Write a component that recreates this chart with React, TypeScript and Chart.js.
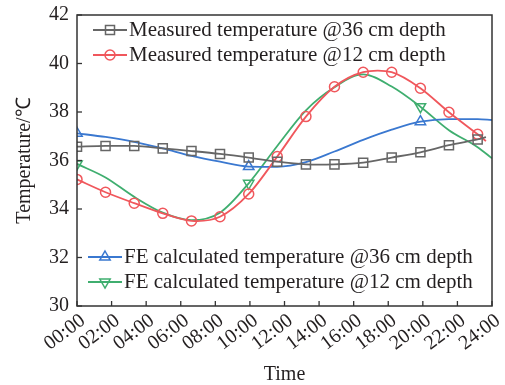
import React, { useEffect, useRef } from 'react';
import { Chart, registerables } from 'chart.js';

Chart.register(...registerables);

// ---- data ----
const tickLabels = ['00:00', '02:00', '04:00', '06:00', '08:00', '10:00', '12:00', '14:00', '16:00', '18:00', '20:00', '22:00', '24:00'];
const yTicks = [30, 32, 34, 36, 38, 40, 42];

// measurement times (hours)
const measuredHours = [0, 1.65, 3.31, 4.96, 6.62, 8.27, 9.93, 11.58, 13.24, 14.89, 16.55, 18.2, 19.86, 21.51, 23.17, 23.65];
const measured36 = [36.57, 36.6, 36.6, 36.5, 36.39, 36.27, 36.12, 35.95, 35.84, 35.84, 35.91, 36.12, 36.34, 36.63, 36.87, 36.96];
const measured12 = [35.22, 34.69, 34.24, 33.82, 33.51, 33.68, 34.62, 36.16, 37.81, 39.04, 39.64, 39.64, 38.98, 37.99, 37.08, 36.8];
const measuredMarkerCount = 15;

// FE calculated curves (hours)
const feHours = [0, 1.65, 3.31, 4.96, 6.62, 8.27, 9.93, 11.58, 13.24, 14.89, 16.55, 18.2, 19.86, 21.51, 23.17, 24];
const fe36 = [37.12, 36.97, 36.77, 36.5, 36.19, 35.95, 35.75, 35.74, 35.93, 36.37, 36.85, 37.27, 37.6, 37.71, 37.71, 37.67];
const fe12 = [35.86, 35.3, 34.5, 33.85, 33.54, 33.85, 35.06, 36.6, 38.07, 39.02, 39.55, 39.05, 38.22, 37.25, 36.55, 36.09];
const feMarkerIndices = [0, 6, 12];

const seriesNames = [
  'Measured temperature @36 cm depth',
  'Measured temperature @12 cm depth',
  'FE calculated temperature @36 cm depth',
  'FE calculated temperature @12 cm depth',
];

// ---- styles ----
const FONT = "'Liberation Serif', 'Times New Roman', Times, serif";
const TEXT = '#231f20';
const GREY = '#666666';
const RED = '#f0575c';
const BLUE = '#3a78d0';
const GREEN = '#3fae6f';
const COLORS = [GREY, RED, BLUE, GREEN];
const MARKERS = ['rect', 'circle', 'tri', 'triDown'];

function drawMarker(ctx: CanvasRenderingContext2D, kind: string, x: number, y: number, color: string) {
  ctx.save();
  ctx.strokeStyle = color;
  ctx.lineWidth = 1.5;
  ctx.beginPath();
  if (kind === 'rect') {
    const s = 4.5;
    ctx.rect(x - s, y - s, 2 * s, 2 * s);
  } else if (kind === 'circle') {
    ctx.arc(x, y, 5, 0, Math.PI * 2);
  } else {
    const r = 6;
    const d = kind === 'tri' ? 1 : -1;
    ctx.moveTo(x, y - d * r);
    ctx.lineTo(x + r * 0.866, y + d * r * 0.5);
    ctx.lineTo(x - r * 0.866, y + d * r * 0.5);
    ctx.closePath();
  }
  ctx.stroke();
  ctx.restore();
}

const decorPlugin = {
  id: 'decor',
  afterDatasetsDraw(chart: any) {
    const { ctx, chartArea: a, scales } = chart;
    ctx.save();
    ctx.strokeStyle = '#333';
    ctx.lineWidth = 1.3;
    // inward ticks
    scales.x.ticks.forEach((t: any) => {
      const px = scales.x.getPixelForValue(t.value);
      ctx.beginPath();
      ctx.moveTo(px, a.bottom);
      ctx.lineTo(px, a.bottom - 5);
      ctx.stroke();
    });
    scales.y.ticks.forEach((t: any) => {
      const py = scales.y.getPixelForValue(t.value);
      ctx.beginPath();
      ctx.moveTo(a.left, py);
      ctx.lineTo(a.left + 5, py);
      ctx.stroke();
    });
    // frame
    ctx.lineWidth = 1.5;
    ctx.strokeRect(a.left, a.top, a.right - a.left, a.bottom - a.top);

    // legends
    const groups = [
      { idx: [0, 1], x0: a.left + 16, y0: a.top + 15 },
      { idx: [2, 3], x0: a.left + 11, y0: a.bottom - 49 },
    ];
    ctx.font = `21px ${FONT}`;
    ctx.textBaseline = 'middle';
    ctx.textAlign = 'left';
    groups.forEach((g) => {
      g.idx.forEach((i, k) => {
        const y = g.y0 + k * 25;
        const x1 = g.x0;
        const x2 = g.x0 + 34;
        ctx.strokeStyle = COLORS[i];
        ctx.lineWidth = 1.8;
        ctx.beginPath();
        ctx.moveTo(x1, y);
        ctx.lineTo(x2, y);
        ctx.stroke();
        drawMarker(ctx, MARKERS[i], (x1 + x2) / 2, y, COLORS[i]);
        ctx.fillStyle = TEXT;
        ctx.fillText(seriesNames[i], x2 + 2, y);
      });
    });
    ctx.restore();
  },
};

export default function App() {
  const ref = useRef<HTMLCanvasElement | null>(null);

  useEffect(() => {
    if (!ref.current) return;
    const toXY = (xs: number[], ys: number[]) => xs.map((x, i) => ({ x, y: ys[i] }));
    const measuredRadius = (r: number) => (c: any) => (c.dataIndex < measuredMarkerCount ? r : 0);
    const feRadius = (c: any) => (feMarkerIndices.includes(c.dataIndex) ? 6 : 0);

    const chart = new Chart(ref.current, {
      type: 'line',
      data: {
        datasets: [
          {
            label: seriesNames[0],
            data: toXY(measuredHours, measured36),
            borderColor: GREY,
            backgroundColor: 'rgba(0,0,0,0)',
            borderWidth: 1.8,
            pointStyle: 'rect',
            pointRadius: measuredRadius(6.4),
            pointBorderWidth: 1.5,
            tension: 0.3,
          },
          {
            label: seriesNames[1],
            data: toXY(measuredHours, measured12),
            borderColor: RED,
            backgroundColor: 'rgba(0,0,0,0)',
            borderWidth: 1.8,
            pointStyle: 'circle',
            pointRadius: measuredRadius(5),
            pointBorderWidth: 1.5,
            tension: 0.3,
          },
          {
            label: seriesNames[2],
            data: toXY(feHours, fe36),
            borderColor: BLUE,
            backgroundColor: 'rgba(0,0,0,0)',
            borderWidth: 1.8,
            pointStyle: 'triangle',
            pointRadius: feRadius,
            pointBorderWidth: 1.5,
            cubicInterpolationMode: 'monotone',
          },
          {
            label: seriesNames[3],
            data: toXY(feHours, fe12),
            borderColor: GREEN,
            backgroundColor: 'rgba(0,0,0,0)',
            borderWidth: 1.8,
            pointStyle: 'triangle',
            pointRotation: 180,
            pointRadius: feRadius,
            pointBorderWidth: 1.5,
            cubicInterpolationMode: 'monotone',
          },
        ],
      },
      options: {
        responsive: false,
        animation: false,
        layout: { padding: { top: 15, right: 13, bottom: 0, left: 0 } },
        plugins: {
          legend: { display: false },
          tooltip: { enabled: false },
        },
        scales: {
          x: {
            type: 'linear',
            min: 0,
            max: 24,
            afterFit: (s: any) => {
              s.height = 79;
              s.paddingLeft = 0;
              s.paddingRight = 0;
            },
            afterBuildTicks: (s: any) => {
              s.ticks = tickLabels.map((_, i) => ({ value: i * 2 }));
            },
            ticks: {
              callback: (v: any) => tickLabels[Math.round(Number(v) / 2)],
              minRotation: 37,
              maxRotation: 37,
              padding: 3,
              labelOffset: 6,
              color: TEXT,
              font: { family: FONT, size: 20 },
              autoSkip: false,
            },
            grid: { display: false, drawTicks: false },
            border: { display: false },
            title: {
              display: true,
              text: 'Time',
              color: TEXT,
              font: { family: FONT, size: 20, lineHeight: 1 },
              padding: { top: 0, bottom: 0 },
            },
          },
          y: {
            type: 'linear',
            min: 30,
            max: 42,
            afterFit: (s: any) => {
              s.width = 77;
              s.paddingTop = 0;
              s.paddingBottom = 0;
            },
            afterBuildTicks: (s: any) => {
              s.ticks = yTicks.map((v) => ({ value: v }));
            },
            ticks: {
              padding: 8,
              color: TEXT,
              font: { family: FONT, size: 20 },
            },
            grid: { display: false, drawTicks: false },
            border: { display: false },
            title: {
              display: true,
              text: 'Temperature/℃',
              color: TEXT,
              font: { family: FONT, size: 20, lineHeight: 1 },
              padding: { top: 15, bottom: 0 },
            },
          },
        },
      },
      plugins: [decorPlugin],
    } as any);
    return () => chart.destroy();
  }, []);

  return (
    <div style={{ position: 'fixed', left: 0, top: 0, width: 505, height: 385, background: '#fff' }}>
      <canvas ref={ref} width={505} height={385} style={{ display: 'block' }} />
    </div>
  );
}
